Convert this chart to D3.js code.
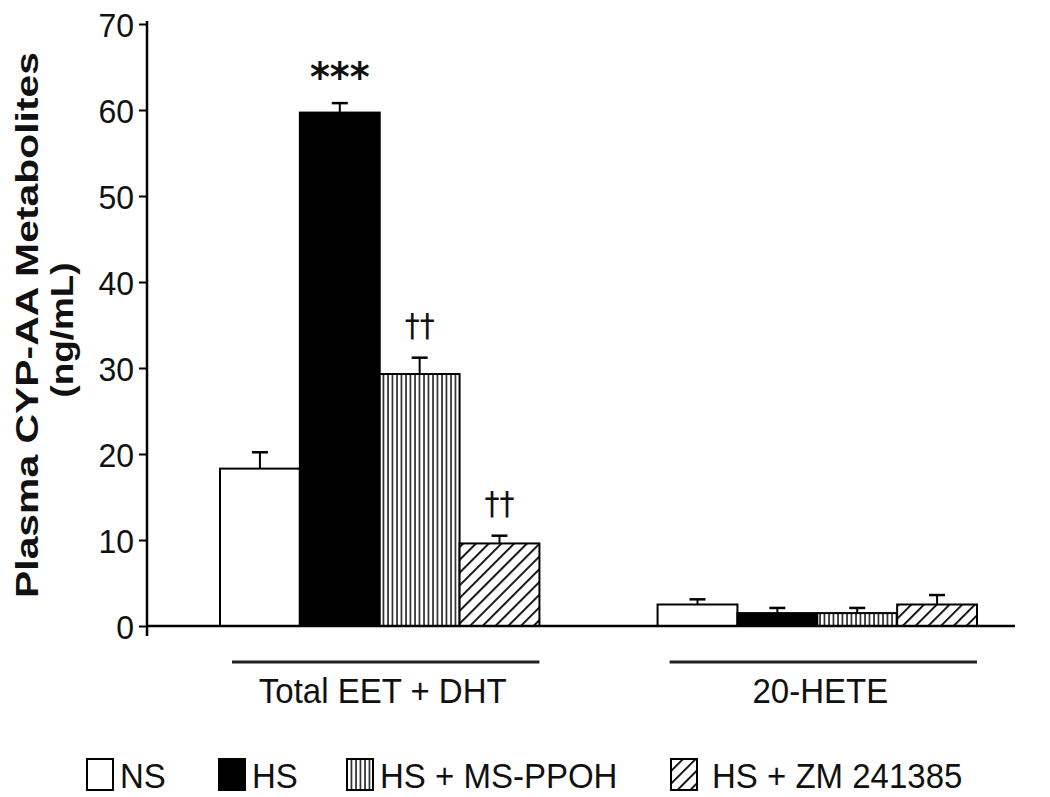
<!DOCTYPE html>
<html>
<head>
<meta charset="utf-8">
<script src="https://cdn.jsdelivr.net/npm/d3@7"></script>
<style>
  body { margin: 0; background: #fff; }
  svg { font-family: "Liberation Sans", Arial, sans-serif; }
</style>
</head>
<body>
<svg id="chart" width="1050" height="797"></svg>
<script>
// chart data
const groups = ["Total EET + DHT", "20-HETE"];
const series = ["NS", "HS", "HS + MS-PPOH", "HS + ZM 241385"];
const eetMeans = [18.3, 59.7, 29.3, 9.6];
const eetErrors = [1.9, 1.1, 1.9, 0.9];
const heteMeans = [2.5, 1.5, 1.5, 2.5];
const heteErrors = [0.6, 0.6, 0.6, 1.1];
const eetMarks = ["", "***", "††", "††"];
const yTicks = [0, 10, 20, 30, 40, 50, 60, 70];

const svg = d3.select("#chart");
const axisX = 147;
const stretch = 1.06; // figure text is a touch taller than wide

// patterns for the bar fills
const defs = svg.append("defs");
const vert = defs.append("pattern")
    .attr("id", "vlines").attr("patternUnits", "userSpaceOnUse")
    .attr("width", 4.5).attr("height", 10);
vert.append("rect").attr("width", 4.5).attr("height", 10).attr("fill", "#fff");
vert.append("line").attr("x1", 1).attr("x2", 1).attr("y1", 0).attr("y2", 10)
    .attr("stroke", "#000").attr("stroke-width", 1.4);

const diag = defs.append("pattern")
    .attr("id", "diag").attr("patternUnits", "userSpaceOnUse")
    .attr("width", 9).attr("height", 9)
    .attr("patternTransform", "rotate(45)");
diag.append("rect").attr("width", 9).attr("height", 9).attr("fill", "#fff");
diag.append("line").attr("x1", 0).attr("x2", 0).attr("y1", 0).attr("y2", 9)
    .attr("stroke", "#000").attr("stroke-width", 3.6);

const fills = ["#fff", "#000", "url(#vlines)", "url(#diag)"];

// scales
const y = d3.scaleLinear().domain([0, 70]).range([626, 24]);
const x0 = d3.scaleBand().domain(groups).range([220, 977]).paddingInner(0.27);
const x1 = d3.scaleBand().domain(series).range([0, x0.bandwidth()]);

const data = [
    { group: groups[0], means: eetMeans, errs: eetErrors, marks: eetMarks },
    { group: groups[1], means: heteMeans, errs: heteErrors, marks: ["", "", "", ""] }
];

// bars + error bars
data.forEach(g => {
    const gx = x0(g.group);
    series.forEach((s, i) => {
        const bx = gx + x1(s);
        const bw = x1.bandwidth();
        const top = y(g.means[i]);
        const cx = bx + bw / 2;
        const capY = y(g.means[i] + g.errs[i]);
        svg.append("line")
            .attr("x1", cx).attr("x2", cx).attr("y1", top).attr("y2", capY)
            .attr("stroke", "#000").attr("stroke-width", 2);
        svg.append("line")
            .attr("x1", cx - 8).attr("x2", cx + 8).attr("y1", capY).attr("y2", capY)
            .attr("stroke", "#000").attr("stroke-width", 2.5);
        svg.append("rect")
            .attr("x", bx).attr("y", top)
            .attr("width", bw).attr("height", y(0) - top)
            .attr("fill", fills[i])
            .attr("stroke", "#000").attr("stroke-width", 2);
        if (g.marks[i]) {
            const star = g.marks[i] === "***";
            svg.append("text")
                .attr("transform", `translate(${cx},${capY - (star ? 12 : 22)}) scale(1,${stretch})`)
                .attr("text-anchor", "middle")
                .attr("font-size", star ? 38 : 30)
                .attr("font-weight", star ? "bold" : "normal")
                .attr("font-family", "'DejaVu Sans', sans-serif")
                .attr("fill", "#111")
                .text(g.marks[i]);
        }
    });

    // group underline and label
    svg.append("line")
        .attr("x1", gx + 12).attr("x2", gx + x0.bandwidth())
        .attr("y1", 662).attr("y2", 662)
        .attr("stroke", "#222").attr("stroke-width", 3);
    svg.append("text")
        .attr("transform", `translate(${gx + 3 + x0.bandwidth() / 2},703) scale(1,${stretch})`)
        .attr("text-anchor", "middle").attr("font-size", 33).attr("fill", "#111")
        .text(g.group);
});

// baseline
svg.append("line")
    .attr("x1", axisX).attr("x2", 1015).attr("y1", y(0)).attr("y2", y(0))
    .attr("stroke", "#000").attr("stroke-width", 2.5);

// y axis
const yAxis = svg.append("g")
    .attr("transform", `translate(${axisX},0)`)
    .call(d3.axisLeft(y).tickValues(yTicks).tickSize(8).tickSizeOuter(0).tickPadding(5));
yAxis.select(".domain").remove();
yAxis.selectAll(".tick line").attr("stroke-width", 2);
yAxis.selectAll(".tick text")
    .attr("font-size", 32).attr("fill", "#111")
    .attr("font-family", "'Liberation Sans', Arial, sans-serif")
    .attr("dy", null)
    .attr("transform", `translate(0,12) scale(1,${stretch})`)
    .attr("y", 0);
svg.append("line")
    .attr("x1", axisX).attr("x2", axisX).attr("y1", y(70) - 3).attr("y2", y(0) + 10)
    .attr("stroke", "#000").attr("stroke-width", 2.5);

// y axis title
svg.append("text")
    .attr("transform", "translate(38,325) rotate(-90)")
    .attr("text-anchor", "middle").attr("font-weight", "bold").attr("font-size", 32)
    .attr("textLength", 546).attr("lengthAdjust", "spacingAndGlyphs")
    .attr("fill", "#111")
    .text("Plasma CYP-AA Metabolites");
svg.append("text")
    .attr("transform", "translate(73,330) rotate(-90)")
    .attr("text-anchor", "middle").attr("font-weight", "bold").attr("font-size", 32)
    .attr("textLength", 135).attr("lengthAdjust", "spacingAndGlyphs")
    .attr("fill", "#111")
    .text("(ng/mL)");

// legend
const legendX = [86, 218, 346, 670];
series.forEach((s, i) => {
    const lg = svg.append("g").attr("transform", `translate(${legendX[i]},758)`);
    lg.append("rect").attr("x", 1).attr("y", 1).attr("width", 26).attr("height", 31)
        .attr("fill", fills[i]).attr("stroke", "#000").attr("stroke-width", 2);
    lg.append("text")
        .attr("transform", `translate(${i < 3 ? 34 : 42},30) scale(1,${stretch})`)
        .attr("font-size", 33).attr("fill", "#111").text(s);
});
</script>
</body>
</html>
